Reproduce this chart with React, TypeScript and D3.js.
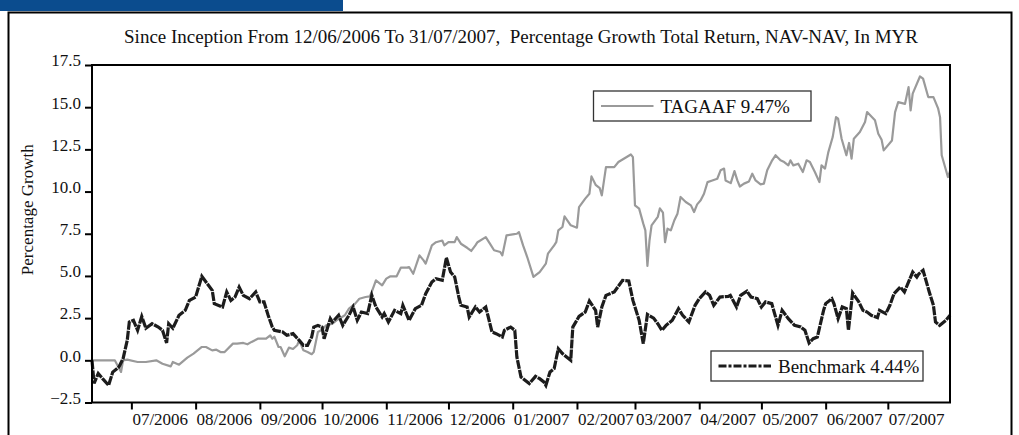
import React, { useRef, useEffect } from 'react'
import * as d3 from 'd3'

const START_DATE = '2006-06-12'
const END_DATE = '2007-07-31'
const TITLE =
  'Since Inception From 12/06/2006 To 31/07/2007,  Percentage Growth Total Return, NAV-NAV, In MYR'
const Y_LABEL = 'Percentage Growth'

const monthTicks = [
  '2006-07-01', '2006-08-01', '2006-09-01', '2006-10-01', '2006-11-01',
  '2006-12-01', '2007-01-01', '2007-02-01', '2007-03-01', '2007-04-01',
  '2007-05-01', '2007-06-01', '2007-07-01',
]
const yTicks = [-2.5, 0, 2.5, 5, 7.5, 10, 12.5, 15, 17.5]

const fundLabel = 'TAGAAF 9.47%'
const benchLabel = 'Benchmark 4.44%'

// days since inception (12/06/2006) and % growth
const fundDays = [
  0, 11, 14, 15, 17, 22, 26, 31, 34, 38, 39, 42, 46, 49, 53, 55, 58, 60, 62, 64,
  68, 70, 73, 75, 77, 80, 84, 86, 87, 88, 90, 91, 93, 95, 97, 99, 100, 102, 104, 106,
  107, 109, 111, 113, 116, 118, 122, 124, 127, 129, 132, 134, 135, 137, 140, 142, 144, 147, 149, 152,
  153, 155, 158, 160, 161, 164, 166, 169, 170, 172, 175, 176, 178, 181, 183, 185, 186, 190, 192, 194,
  197, 198, 200, 203, 205, 206, 208, 210, 213, 216, 219, 220, 223, 224, 225, 227, 228, 231, 234, 235,
  238, 240, 241, 243, 245, 246, 248, 252, 254, 256, 260, 261, 262, 264, 266, 267, 268, 269, 270, 273,
  274, 275.5, 276.5, 277.7, 279.3, 281, 282.5, 284, 286.5, 289, 290.5, 292, 293.7, 295.3, 297, 299.3, 301.7, 303.3, 305, 305.7,
  308.2, 310, 311.4, 312.6, 314.6, 317, 318.6, 320.2, 322.6, 324.2, 325.8, 328.2, 329.8, 332.2, 334, 336, 337, 338.4, 340.8, 343,
  344.8, 346.4, 348.8, 351, 352, 353.7, 355.3, 357.4, 359, 360, 361.7, 364, 365.3, 366.5, 367.6, 370.5, 373, 374, 377.8, 379.4,
  381, 382, 386, 387.5, 389, 392.3, 394, 395, 396, 399.5, 401, 403.5, 406, 408.3, 409.2, 410, 413, 414,
]
const fundValues = [
  0, 0, -0.69, 0, 0.04, -0.1, -0.1, 0, -0.2, -0.36, -0.1, -0.26, 0.16, 0.4, 0.79, 0.79, 0.59, 0.63, 0.49, 0.49,
  0.99, 0.99, 1.03, 0.95, 1.09, 1.28, 1.28, 1.48, 1.28, 1.4, 0.79, 0.79, 0.24, 0.75, 0.67, 0.89, 1.18, 0.59, 0.49, 0.36,
  0.49, 1.68, 1.82, 2.07, 2.17, 2.37, 2.67, 3.06, 3.36, 3.65, 3.75, 3.79, 4.05, 4.74, 4.44, 4.84, 4.98, 4.98, 5.49, 5.49,
  5.53, 5.13, 6.22, 5.92, 5.73, 6.81, 7.0, 7.1, 6.81, 7.0, 7.0, 7.3, 6.91, 6.67, 6.48, 6.81, 7.0, 7.3, 6.91, 6.52,
  6.42, 6.22, 7.4, 7.46, 7.5, 7.6, 6.81, 6.12, 4.94, 5.23, 5.73, 6.32, 6.81, 7.0, 7.7, 7.9, 8.53, 8.0, 7.86, 9.08,
  9.58, 9.87, 10.9, 10.4, 10.2, 9.77, 11.45, 11.45, 11.75, 11.9, 12.2, 12.04, 9.18, 8.99, 8.1, 7.7, 5.6, 7.1, 8.0, 8.5,
  9.0, 8.75, 7.0, 7.8, 7.7, 8.3, 8.69, 9.68, 9.38, 9.18, 8.79, 9.24, 9.48, 9.87, 10.56, 10.66, 10.76, 11.26, 11.36, 10.66,
  10.5, 11.21, 10.66, 10.3, 10.47, 10.6, 11.06, 10.66, 10.43, 10.47, 11.26, 11.85, 12.15, 11.85, 11.75, 11.55, 11.85, 11.55, 11.65, 11.16,
  11.85, 11.75, 11.16, 10.56, 11.55, 11.36, 12.34, 13.23, 14.41, 14.32, 13.13, 12.15, 12.88, 11.95, 13.13, 13.53, 14.12, 14.71, 14.22, 13.43,
  13.07, 12.44, 13.03, 14.71, 15.3, 15.2, 16.19, 14.81, 15.8, 16.82, 16.69, 15.6, 15.6, 14.91, 14.41, 12.15, 10.86, 11.2,
]

const benchDays = [
  0, 1, 3, 5, 8, 10, 13, 15, 17, 18, 20, 22, 24, 26, 29, 32, 34, 36, 37, 39,
  42, 45, 47, 50, 53, 55, 58, 59, 62, 63, 65, 67, 69, 71, 73, 76, 79, 81, 83, 85,
  87, 88, 92, 94, 97, 100, 102, 104, 106, 107, 109, 111, 112, 115, 116, 119, 121, 124, 126, 128,
  130, 133, 135, 137, 140, 141, 143, 146, 149, 150, 153, 156, 159, 161, 164, 166, 169, 171, 173, 175,
  177, 178, 181, 182, 185, 187, 190, 191, 193, 195, 198, 199, 202, 204, 205, 207, 211, 214, 216, 218,
  219, 221, 223, 225, 227, 231, 232, 235, 238, 240, 243, 244, 246, 248, 252, 256, 259, 261, 264, 266,
  268, 271, 273, 275, 277, 280, 283, 285, 288, 291, 293, 296, 298, 300, 303, 307, 308, 311, 313, 316,
  318, 321, 323, 325, 328, 331, 333, 336, 339, 342, 344, 346, 348, 350, 353, 354, 357, 358, 360, 362,
  364, 365, 367, 370, 372, 374, 376, 379, 380, 383, 385, 387, 390, 392, 396, 398, 399, 401, 404, 406,
  407, 409, 412, 414,
]
const benchValues = [
  0, -1.36, -0.78, -1.07, -1.48, -0.7, -0.4, 0.1, 1.18, 2.27, 2.37, 1.78, 2.6, 1.9, 2.17, 1.97, 1.78, 1.03, 2.17, 1.9,
  2.67, 2.96, 3.55, 3.75, 4.98, 4.64, 4.15, 3.36, 3.2, 3.16, 4.05, 3.55, 3.75, 4.34, 3.85, 3.65, 4.05, 3.46, 3.46, 2.67,
  1.97, 1.78, 1.68, 1.48, 1.58, 1.18, 0.89, 0.89, 1.38, 1.97, 2.07, 1.97, 1.28, 2.47, 2.27, 2.67, 2.07, 2.67, 3.16, 2.37,
  2.86, 2.77, 3.85, 3.16, 2.57, 2.77, 2.27, 2.96, 2.77, 3.26, 2.37, 3.06, 3.26, 3.95, 4.64, 4.84, 4.74, 6.08, 5.23, 4.94,
  3.75, 3.26, 3.16, 2.57, 3.16, 2.86, 3.16, 2.67, 1.68, 1.58, 1.38, 1.78, 1.97, 1.78, 0.2, -0.99, -1.38, -0.95, -1.09, -1.28,
  -1.48, -0.69, -0.49, 0.69, 0.4, 0, 1.97, 2.6, 2.86, 3.51, 2.96, 1.97, 3.16, 3.85, 4.05, 4.74, 4.7, 3.55, 2.37, 0.99,
  2.72, 2.5, 2.17, 1.78, 2.07, 2.37, 3.06, 2.67, 2.27, 3.26, 3.65, 4.05, 3.85, 3.26, 3.75, 3.79, 3.85, 3.16, 3.85, 4.1,
  3.75, 3.65, 3.16, 3.46, 3.36, 2.07, 2.96, 2.47, 2.07, 1.97, 1.78, 1.03, 1.28, 1.38, 2.96, 3.36, 3.65, 3.36, 2.47, 3.16,
  3.06, 1.78, 3.99, 3.46, 2.96, 2.86, 2.67, 2.53, 2.96, 2.77, 3.26, 3.95, 4.34, 4.05, 5.23, 4.94, 5.13, 5.33, 4.05, 3.26,
  2.27, 2.07, 2.37, 2.67,
]

const W = 1019
const H = 435
const FONT = "'Liberation Serif', 'Times New Roman', serif"
const FUND_COLOR = '#9a9a9a'
const BENCH_COLOR = '#1c1c1c'

const App: React.FC = () => {
  const svgRef = useRef<SVGSVGElement>(null)

  useEffect(() => {
    const parse = d3.timeParse('%Y-%m-%d')
    const start = parse(START_DATE)!
    const end = parse(END_DATE)!
    const dayToDate = (d: number) => new Date(start.getTime() + d * 864e5)

    const plot = { left: 92, right: 950, top: 65, bottom: 402.5 }

    const x = d3.scaleTime().domain([start, end]).range([plot.left, plot.right])
    const y = d3.scaleLinear().domain([-2.5, 17.5]).range([plot.bottom, plot.top])

    const svg = d3.select(svgRef.current!)
    svg.selectAll('*').remove()

    // header bar + outer frame
    svg.append('rect').attr('x', 0).attr('y', 0).attr('width', 343).attr('height', 11).attr('fill', '#0b4c8e')
    svg
      .append('path')
      .attr('d', `M8.5,${H} V12.5 H1011.5 V${H}`)
      .attr('fill', 'none')
      .attr('stroke', '#000')
      .attr('stroke-width', 2)

    // title
    svg
      .append('text')
      .attr('x', (plot.left + plot.right) / 2)
      .attr('y', 43)
      .attr('text-anchor', 'middle')
      .style('font-family', FONT)
      .style('font-size', '19px')
      .style('white-space', 'pre')
      .attr('fill', '#111')
      .text(TITLE)

    // y label
    svg
      .append('text')
      .attr('transform', `translate(33,${(plot.top + plot.bottom) / 2 - 24}) rotate(-90)`)
      .attr('text-anchor', 'middle')
      .style('font-family', FONT)
      .style('font-size', '17px')
      .attr('fill', '#111')
      .text(Y_LABEL)

    const line = d3
      .line<[number, number]>()
      .x((d) => x(dayToDate(d[0])))
      .y((d) => y(d[1]))

    const fund: [number, number][] = fundDays.map((d, i) => [d, fundValues[i]])
    const bench: [number, number][] = benchDays.map((d, i) => [d, benchValues[i]])

    svg
      .append('path')
      .datum(fund)
      .attr('d', line)
      .attr('fill', 'none')
      .attr('stroke', FUND_COLOR)
      .attr('stroke-width', 2.2)
      .attr('stroke-linejoin', 'round')

    svg
      .append('path')
      .datum(bench)
      .attr('d', line)
      .attr('fill', 'none')
      .attr('stroke', BENCH_COLOR)
      .attr('stroke-width', 3.2)
      .attr('stroke-dasharray', '9,1')

    // plot frame
    svg
      .append('rect')
      .attr('x', plot.left)
      .attr('y', plot.top)
      .attr('width', plot.right - plot.left)
      .attr('height', plot.bottom - plot.top)
      .attr('fill', 'none')
      .attr('stroke', '#000')
      .attr('stroke-width', 2)

    // y axis
    const yAxis = svg
      .append('g')
      .attr('transform', `translate(${plot.left},0)`)
      .call(d3.axisLeft(y).tickValues(yTicks).tickSize(7).tickFormat(d3.format('.1f')))
    yAxis.select('.domain').remove()
    yAxis.selectAll('line').attr('stroke', '#000').attr('stroke-width', 2)
    yAxis
      .selectAll('text')
      .attr('x', -11)
      .attr('dy', '0.05em')
      .attr('fill', '#111')
      .style('font-family', FONT)
      .style('font-size', '17px')

    // x axis
    const xAxis = svg
      .append('g')
      .attr('transform', `translate(0,${plot.bottom})`)
      .call(
        d3
          .axisBottom(x)
          .tickValues(monthTicks.map((m) => parse(m)!))
          .tickSize(7)
          .tickFormat((d) => d3.timeFormat('%m/%Y')(d as Date))
      )
    xAxis.select('.domain').remove()
    xAxis.selectAll('line').attr('stroke', '#000').attr('stroke-width', 2)
    xAxis
      .selectAll('text')
      .attr('text-anchor', 'start')
      .attr('x', 0.5)
      .attr('y', 22.5)
      .attr('dy', 0)
      .attr('fill', '#111')
      .style('font-family', FONT)
      .style('font-size', '17px')

    // legends
    const legend = (bx: number, by: number, bw: number, color: string, width: number, dash: string | null, label: string) => {
      const g = svg.append('g').attr('transform', `translate(${bx},${by})`)
      g.append('rect')
        .attr('width', bw)
        .attr('height', 30)
        .attr('fill', '#fff')
        .attr('stroke', '#333')
        .attr('stroke-width', 1.3)
      g.append('line')
        .attr('x1', 7.5)
        .attr('x2', 60)
        .attr('y1', 15)
        .attr('y2', 15)
        .attr('stroke', color)
        .attr('stroke-width', width)
        .attr('stroke-dasharray', dash)
      g.append('text')
        .attr('x', 67)
        .attr('y', 21.5)
        .attr('fill', '#111')
        .style('font-family', FONT)
        .style('font-size', '19px')
        .text(label)
    }
    legend(593.5, 91, 217.5, FUND_COLOR, 2.2, null, fundLabel)
    legend(711, 351, 212, BENCH_COLOR, 3, '8,2,3,2', benchLabel)
  }, [])

  return (
    <svg
      ref={svgRef}
      width={W}
      height={H}
      style={{ position: 'absolute', left: 0, top: 0, background: '#fff' }}
    />
  )
}

export default App
